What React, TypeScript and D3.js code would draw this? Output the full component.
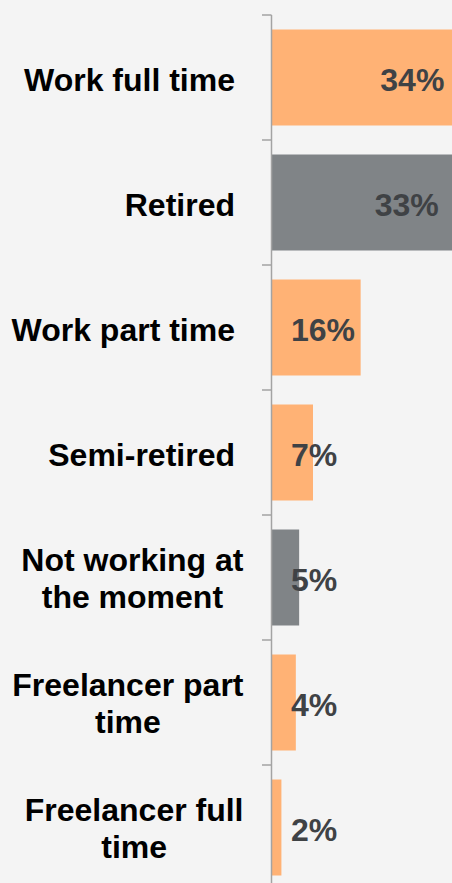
import React from "react";
import * as d3 from "d3";

const categories: string[][] = [
  ["Work full time"],
  ["Retired"],
  ["Work part time"],
  ["Semi-retired"],
  ["Not working at", "the moment"],
  ["Freelancer part", "time"],
  ["Freelancer full", "time"],
];
const values: number[] = [34, 33, 16, 7.4, 4.9, 4.3, 1.7];
const groups: string[] = ["working", "retired", "working", "working", "retired", "working", "working"];
const groupNames = ["working", "retired"];
const groupColors = ["#FFB275", "#808487"];

const W = 452;
const H = 883;
const FONT = "'Liberation Sans', Arial, Helvetica, sans-serif";
const FS = 32;

function measure(text: string): number {
  const c = document.createElement("canvas").getContext("2d");
  if (!c) return text.length * FS * 0.55;
  c.font = `bold ${FS}px ${FONT}`;
  return c.measureText(text).width;
}

export default function App() {
  const x0 = 272;
  const y = d3
    .scaleBand<number>()
    .domain(d3.range(categories.length))
    .range([15, 890])
    .paddingInner(0.232)
    .paddingOuter(0.116);
  const x = d3.scaleLinear().domain([0, 1]).range([x0, x0 + 5.54]);
  const color = d3.scaleOrdinal<string, string>().domain(groupNames).range(groupColors);
  const step = y.step();
  const axisX = 271.5;

  return (
    <svg
      width={W}
      height={H}
      style={{ position: "absolute", left: 0, top: 0, background: "#F4F4F4", display: "block" }}
    >
      <rect x={0} y={0} width={W} height={H} fill="#F4F4F4" />
      {values.map((v, i) => (
        <rect
          key={"b" + i}
          x={x(0)}
          y={y(i)!}
          width={x(v) - x(0)}
          height={y.bandwidth()}
          fill={color(groups[i])}
        />
      ))}
      <line x1={axisX} x2={axisX} y1={15} y2={H} stroke="#A3A3A3" strokeWidth={1.5} />
      {d3.range(categories.length + 1).map((i) => {
        const ty = 15 + i * step;
        return (
          <line key={"t" + i} x1={262} x2={axisX} y1={ty} y2={ty} stroke="#A3A3A3" strokeWidth={1.5} />
        );
      })}
      {categories.map((lines, i) => {
        const cy = y(i)! + y.bandwidth() / 2;
        if (lines.length === 1) {
          return (
            <text
              key={"c" + i}
              x={235}
              y={cy + 13}
              textAnchor="end"
              fontFamily={FONT}
              fontWeight="bold"
              fontSize={FS}
              fill="#000"
            >
              {lines[0]}
            </text>
          );
        }
        const widest = Math.max(...lines.map(measure));
        const cx = 243.5 - widest / 2;
        const lh = 37;
        return (
          <text
            key={"c" + i}
            textAnchor="middle"
            fontFamily={FONT}
            fontWeight="bold"
            fontSize={FS}
            fill="#000"
          >
            {lines.map((l, j) => (
              <tspan key={j} x={cx} y={cy + 12 - ((lines.length - 1) * lh) / 2 + j * lh}>
                {l}
              </tspan>
            ))}
          </text>
        );
      })}
      {values.map((v, i) => {
        const cy = y(i)! + y.bandwidth() / 2;
        const big = v > 20;
        return (
          <text
            key={"v" + i}
            x={big ? x(v) - 16 : x0 + 19}
            y={cy + 13}
            textAnchor={big ? "end" : "start"}
            fontFamily={FONT}
            fontWeight="bold"
            fontSize={FS}
            fill="#3F4245"
          >
            {`${Math.round(v)}%`}
          </text>
        );
      })}
    </svg>
  );
}
